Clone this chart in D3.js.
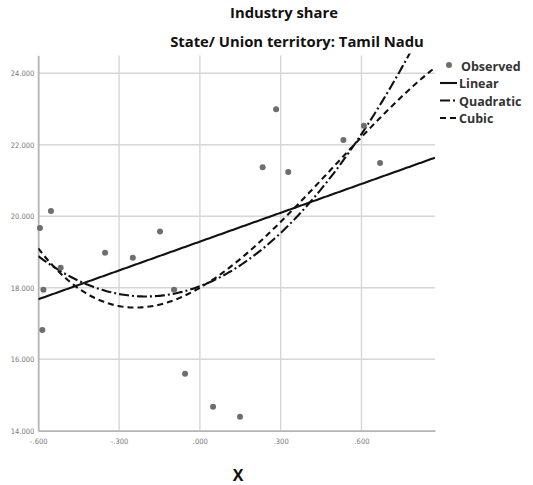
<!DOCTYPE html>
<html>
<head>
<meta charset="utf-8">
<script src="https://cdn.jsdelivr.net/npm/d3@7/dist/d3.min.js"></script>
<style>
  html, body { margin: 0; padding: 0; background: #fff; }
  svg { display: block; }
</style>
</head>
<body>
<svg id="chart" width="533" height="485"></svg>
<script>
// Observed values: X against industry share, Tamil Nadu
const obsX = [-0.594, -0.553, -0.581, -0.585, -0.517, -0.352, -0.249, -0.148, -0.096,
              -0.055, 0.049, 0.149, 0.233, 0.283, 0.328, 0.533, 0.609, 0.669];
const obsY = [19.67, 20.15, 17.94, 16.82, 18.56, 18.98, 18.84, 19.57, 17.94,
              15.59, 14.67, 14.39, 21.37, 22.99, 21.24, 22.13, 22.53, 21.49];

const xTicks = [-0.6, -0.3, 0.0, 0.3, 0.6];
const yTicks = [14, 16, 18, 20, 22, 24];
const xDomain = [-0.6, 0.873];
const yDomain = [14, 24.5];

const fitNames = ["Linear", "Quadratic", "Cubic"];
const fitDegrees = [1, 2, 3];
const fitDash = [null, "10,3,2,3", "6,4"];

const titleLines = ["Industry share", "State/ Union territory: Tamil Nadu"];
const xLabel = "X";

// least-squares polynomial fit via normal equations
function polyfit(xs, ys, deg) {
  const n = deg + 1;
  const A = Array.from({length: n}, () => new Array(n + 1).fill(0));
  for (let k = 0; k < xs.length; k++) {
    for (let i = 0; i < n; i++) {
      for (let j = 0; j < n; j++) A[i][j] += Math.pow(xs[k], i + j);
      A[i][n] += ys[k] * Math.pow(xs[k], i);
    }
  }
  for (let c = 0; c < n; c++) {
    let p = c;
    for (let r = c + 1; r < n; r++) if (Math.abs(A[r][c]) > Math.abs(A[p][c])) p = r;
    [A[c], A[p]] = [A[p], A[c]];
    for (let r = 0; r < n; r++) {
      if (r === c) continue;
      const f = A[r][c] / A[c][c];
      for (let j = c; j <= n; j++) A[r][j] -= f * A[c][j];
    }
  }
  return A.map((row, i) => row[n] / row[i]);
}

const svg = d3.select("#chart");
const plotL = 38.3, plotR = 435, plotT = 55.4, plotB = 430.7;

const x = d3.scaleLinear().domain(xDomain).range([plotL, plotR]);
const y = d3.scaleLinear().domain(yDomain).range([plotB, plotT]);

const fmtX = v => (v < 0 ? "-" : "") + d3.format(".3f")(Math.abs(v)).replace(/^0/, "");
const fmtY = v => d3.format(".3f")(v);

// gridlines
const grid = svg.append("g");
grid.selectAll("line.h").data(yTicks).join("line").attr("class", "h")
  .attr("x1", plotL).attr("x2", plotR)
  .attr("y1", d => y(d)).attr("y2", d => y(d))
  .attr("stroke", "#d6d6d6").attr("stroke-width", 1.4);
grid.selectAll("line.v").data(xTicks).join("line").attr("class", "v")
  .attr("y1", plotB).attr("y2", plotT)
  .attr("x1", d => x(d)).attr("x2", d => x(d))
  .attr("stroke", "#d6d6d6").attr("stroke-width", 1.4);

// axes
const xAxis = svg.append("g").attr("transform", `translate(0,${plotB})`)
  .call(d3.axisBottom(x).tickValues(xTicks).tickFormat(fmtX).tickSize(0).tickPadding(8));
const yAxis = svg.append("g").attr("transform", `translate(${plotL},0)`)
  .call(d3.axisLeft(y).tickValues(yTicks).tickFormat(fmtY).tickSize(0).tickPadding(4));
[xAxis, yAxis].forEach(a => {
  a.select(".domain").attr("stroke", "#b5b5b5").attr("stroke-width", 1.6);
  a.selectAll("text").attr("font-family", "'Liberation Sans Narrow', 'DejaVu Sans Condensed', sans-serif")
    .attr("font-size", 7.5).attr("fill", "#777");
});

// fit curves
const clipId = "plotclip";
svg.append("clipPath").attr("id", clipId).append("rect")
  .attr("x", plotL).attr("y", plotT - 2).attr("width", plotR - plotL).attr("height", plotB - plotT + 2);

const samples = d3.range(0, 201).map(i => xDomain[0] + (xDomain[1] - xDomain[0]) * i / 200);
const line = d3.line().x(d => x(d[0])).y(d => y(d[1]));
const fits = fitDegrees.map(deg => polyfit(obsX, obsY, deg));
const curveG = svg.append("g").attr("clip-path", `url(#${clipId})`);
fits.forEach((coef, i) => {
  const pts = samples.map(v => [v, coef.reduce((s, c, k) => s + c * Math.pow(v, k), 0)]);
  curveG.append("path").datum(pts)
    .attr("d", line)
    .attr("fill", "none")
    .attr("stroke", "#111")
    .attr("stroke-width", 2.1)
    .attr("stroke-dasharray", fitDash[i]);
});

// observed points
svg.append("g").selectAll("circle").data(obsX.map((v, i) => [v, obsY[i]])).join("circle")
  .attr("cx", d => x(d[0])).attr("cy", d => y(d[1])).attr("r", 3)
  .attr("fill", "#6e6e6e");

// titles
const titleFont = "'Open Sans', Lato, sans-serif";
svg.append("text").attr("x", 284).attr("y", 18).attr("text-anchor", "middle")
  .attr("font-family", titleFont).attr("font-weight", "bold").attr("font-size", 14.8)
  .attr("fill", "#111").text(titleLines[0]);
svg.append("text").attr("x", 297).attr("y", 47).attr("text-anchor", "middle")
  .attr("font-family", titleFont).attr("font-weight", "bold").attr("font-size", 14.8)
  .attr("fill", "#111").text(titleLines[1]);

svg.append("text").attr("x", 238).attr("y", 481).attr("text-anchor", "middle")
  .attr("font-family", titleFont).attr("font-weight", "bold").attr("font-size", 16)
  .attr("fill", "#111").text(xLabel);

// legend
const lg = svg.append("g").attr("font-family", titleFont).attr("font-weight", "bold")
  .attr("font-size", 12.5).attr("fill", "#333");
lg.append("circle").attr("cx", 449).attr("cy", 65).attr("r", 3).attr("fill", "#6e6e6e");
lg.append("text").attr("x", 461).attr("y", 71).text("Observed");
fitNames.forEach((name, i) => {
  const yy = 83 + i * 17.5;
  lg.append("line").attr("x1", 440).attr("x2", 457).attr("y1", yy).attr("y2", yy)
    .attr("stroke", "#111").attr("stroke-width", 2.1)
    .attr("stroke-dasharray", fitDash[i]);
  lg.append("text").attr("x", 459).attr("y", yy + 5).text(name);
});
</script>
</body>
</html>
